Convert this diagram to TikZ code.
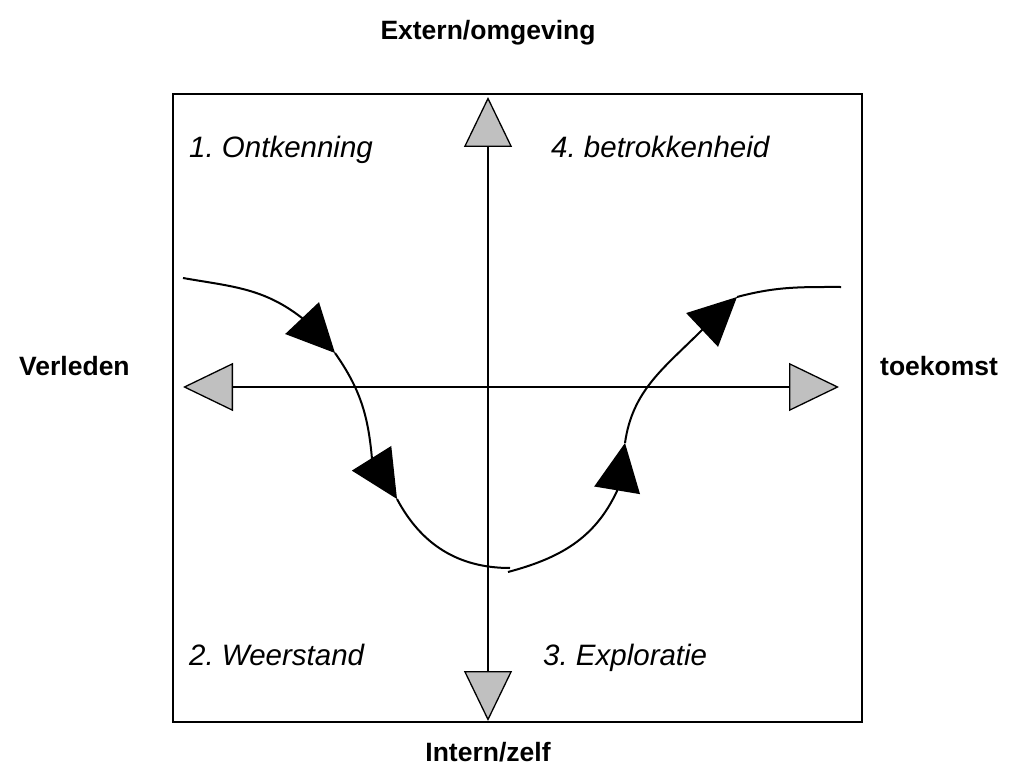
\documentclass[tikz,border=0pt]{standalone}
\usepackage{fontspec}
\setmainfont{Liberation Sans}
\usetikzlibrary{arrows.meta}
\definecolor{axisgray}{RGB}{192,192,192}
\tikzset{
    graytip/.tip={Triangle[length=50pt, width=48pt, fill=axisgray, line width=1.3pt]},
    flowtip/.tip={Triangle[length=48pt, width=46pt]}
}

\begin{document}
\begin{tikzpicture}[x=1pt, y=1pt,
    axis/.style={line width=2pt, graytip-graytip},
    flow/.style={line width=2pt},
    phase/.style={font=\fontsize{29.5}{33}\selectfont\itshape, anchor=base west, inner sep=0pt},
    pole/.style={font=\fontsize{26.5}{30}\selectfont\bfseries, inner sep=0pt}]
    \useasboundingbox (0,0) rectangle (1013,-781);

    % Frame
    \draw[line width=2.6pt] (173,-94) rectangle (862,-722);

    % Axes
    \coordinate (n) at (488,-97);
    \coordinate (s) at (488,-721);
    \coordinate (w) at (183,-387);
    \coordinate (e) at (839,-387);
    \draw[axis] (s) -- (n);
    \draw[axis] (w) -- (e);

    % Pole labels
    \node[pole, anchor=base] (extern) at (488,-40) {Extern/omgeving};
    \node[pole, anchor=base] (intern) at (488,-761) {Intern/zelf};
    \node[pole, anchor=base west] (verleden) at (19,-375) {Verleden};
    \node[pole, anchor=base west] (toekomst) at (880,-375) {toekomst};

    % Phases
    \node[phase] (ontkenning) at (189,-158) {1.\ Ontkenning};
    \node[phase] (weerstand) at (189,-665) {2.\ Weerstand};
    \node[phase] (exploratie) at (543,-665) {3.\ Exploratie};
    \node[phase] (betrokken) at (551,-158) {4.\ betrokkenheid};

    % Left arc, going down (ha, hb: backs of the heads)
    \coordinate (a0) at (183,-278);
    \coordinate (ha) at (302,-318);
    \coordinate (a1) at (335,-353);
    \coordinate (hb) at (372,-459);
    \coordinate (a2) at (397,-499);
    \coordinate (a3) at (510,-568);
    \draw[flow, -flowtip] (a0) to[out=-10, in=142] (ha) -- (a1);
    \draw[flow, -flowtip] (a1) to[out=-55, in=95] (hb) -- (a2);
    \draw[flow] (a2) to[out=-62, in=180] (a3);

    % Right arc, going up (hc, hd: backs of the heads)
    \coordinate (b0) at (508,-572);
    \coordinate (hc) at (617,-491);
    \coordinate (b1) at (625,-443);
    \coordinate (hd) at (701,-331);
    \coordinate (b2) at (737,-297);
    \coordinate (b3) at (841,-287);
    \draw[flow, -flowtip] (b0) to[out=15, in=-115] (hc) -- (b1);
    \draw[flow, -flowtip] (b1) to[out=82, in=-135] (hd) -- (b2);
    \draw[flow] (b2) to[out=15, in=180] (b3);
\end{tikzpicture}
\end{document}
